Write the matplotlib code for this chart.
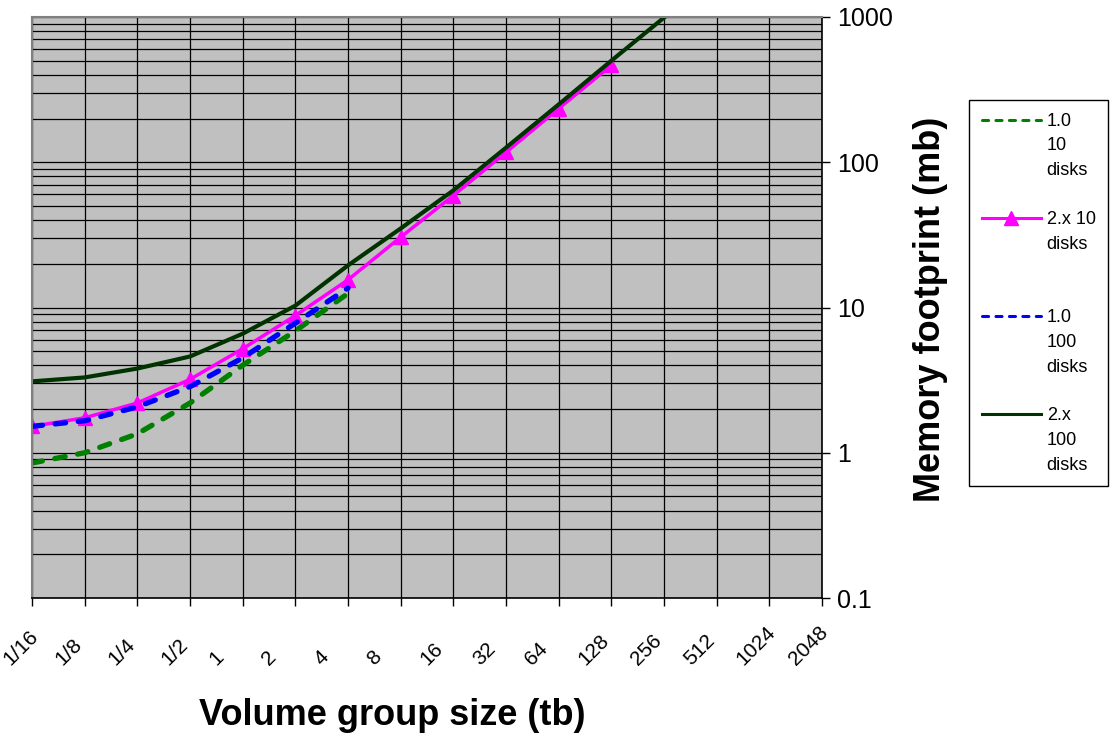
import numpy as np
import matplotlib
matplotlib.use("Agg")
import matplotlib.pyplot as plt
from matplotlib.ticker import FixedLocator, NullFormatter, LogLocator
from matplotlib.transforms import ScaledTranslation

plt.rcParams['font.family'] = ['Liberation Sans', 'DejaVu Sans']

# x categories (volume group size, tb)
sizes = ["1/16", "1/8", "1/4", "1/2", "1", "2", "4", "8", "16", "32",
         "64", "128", "256", "512", "1024", "2048"]

# memory footprint (mb)
v1_10 = [0.85, 1.0, 1.35, 2.2, 4.0, 6.9, 12.5]
v2_10 = [1.52, 1.74, 2.2, 3.2, 5.2, 8.8, 15.5, 30.5, 59, 117, 234, 465]
v1_100 = [1.52, 1.66, 2.07, 2.85, 4.5, 7.8, 13.6]
v2_100 = [3.1, 3.3, 3.8, 4.6, 6.6, 10.3, 19.5, 35, 64, 126, 250, 500, 990]

labels = ["1.0\n10\ndisks", "2.x 10\ndisks\n", "1.0\n100\ndisks", "2.x\n100\ndisks"]

y_ticks = [0.1, 1, 10, 100, 1000]
y_tick_labels = ["0.1", "1", "10", "100", "1000"]

W, H = 1115, 751
fig = plt.figure(figsize=(W / 100, H / 100), dpi=100)
ax = fig.add_axes([32 / W, 1 - 598 / H, 790 / W, 581 / H])
ax.set_facecolor("#c0c0c0")

x = np.arange(len(sizes))
ax.plot(x[:len(v1_10)], v1_10, color="#008000", lw=3.8, ls=(0, (2.0, 2.4)),
        dash_capstyle="round", label=labels[0])
ax.plot(x[:len(v2_10)], v2_10, color="#ff00ff", lw=2.5, marker="^", ms=9.5,
        label=labels[1])
ax.plot(x[:len(v1_100)], v1_100, color="#0000ff", lw=3.8, ls=(0, (2.0, 2.4)),
        dash_capstyle="round", label=labels[2])
ax.plot(x[:len(v2_100)], v2_100, color="#003300", lw=3.0, label=labels[3])

ax.set_yscale("log")
ax.set_ylim(0.1, 1000)
ax.set_xlim(0, len(sizes) - 1)

# y axis on the right
ax.yaxis.tick_right()
ax.yaxis.set_major_locator(FixedLocator(y_ticks))
ax.set_yticklabels(y_tick_labels)
ax.yaxis.set_minor_locator(LogLocator(base=10, subs=range(2, 10)))
ax.yaxis.set_minor_formatter(NullFormatter())
ax.tick_params(axis="y", which="major", direction="out", length=6, width=1,
               labelsize=18, pad=5, colors="black")
ax.tick_params(axis="y", which="minor", length=0)

ax.set_xticks(x)
ax.set_xticklabels(sizes, rotation=45, ha="right", va="bottom")
ax.tick_params(axis="x", direction="out", length=6, width=1, labelsize=15,
               pad=45)
# labels are padded to four characters, as in the original sheet
for lab in ax.get_xticklabels():
    dx = 10 - 8.5 * (4 - len(lab.get_text()))
    lab.set_transform(lab.get_transform()
                      + ScaledTranslation(dx / 100, 0, fig.dpi_scale_trans))

ax.grid(True, which="both", axis="y", color="black", lw=0.9)
ax.grid(True, which="major", axis="x", color="black", lw=0.9)
ax.set_axisbelow(True)

for side in ["left", "top"]:
    ax.spines[side].set_color("#808080")
    ax.spines[side].set_linewidth(1.5)
for side in ["right", "bottom"]:
    ax.spines[side].set_color("black")
    ax.spines[side].set_linewidth(1.2)

ax.set_xlabel("Volume group size (tb)", fontsize=26, fontweight="bold")
ax.xaxis.set_label_coords(0.456, -0.172)
ax.xaxis.label.set_va("top")

ax.yaxis.set_label_position("right")
ax.set_ylabel("Memory footprint (mb)", fontsize=26, fontweight="bold")
ax.yaxis.set_label_coords(1.137, 0.497)
ax.yaxis.label.set_va("center")
ax.yaxis.label.set_ha("center")
ax.yaxis.label.set_rotation_mode("default")

leg = ax.legend(loc="upper left", bbox_to_anchor=(969 / W, 1 - 100 / H),
                bbox_transform=fig.transFigure, borderaxespad=0,
                fontsize=13, frameon=True, fancybox=False, edgecolor="black",
                framealpha=1, handlelength=3.3, handletextpad=0.3,
                handleheight=1.0, labelspacing=1.75, borderpad=0.7)
leg.get_frame().set_linewidth(1.0)
for t in leg.get_texts():
    t.set_linespacing(1.6)
for ln in leg.get_lines():
    ln.set_linewidth(2.2)
# put the legend line next to the first line of each label
for col in leg._legend_handle_box.get_children():
    for item in col.get_children():
        item.align = "top"

fig.savefig("out.png", dpi=100)
